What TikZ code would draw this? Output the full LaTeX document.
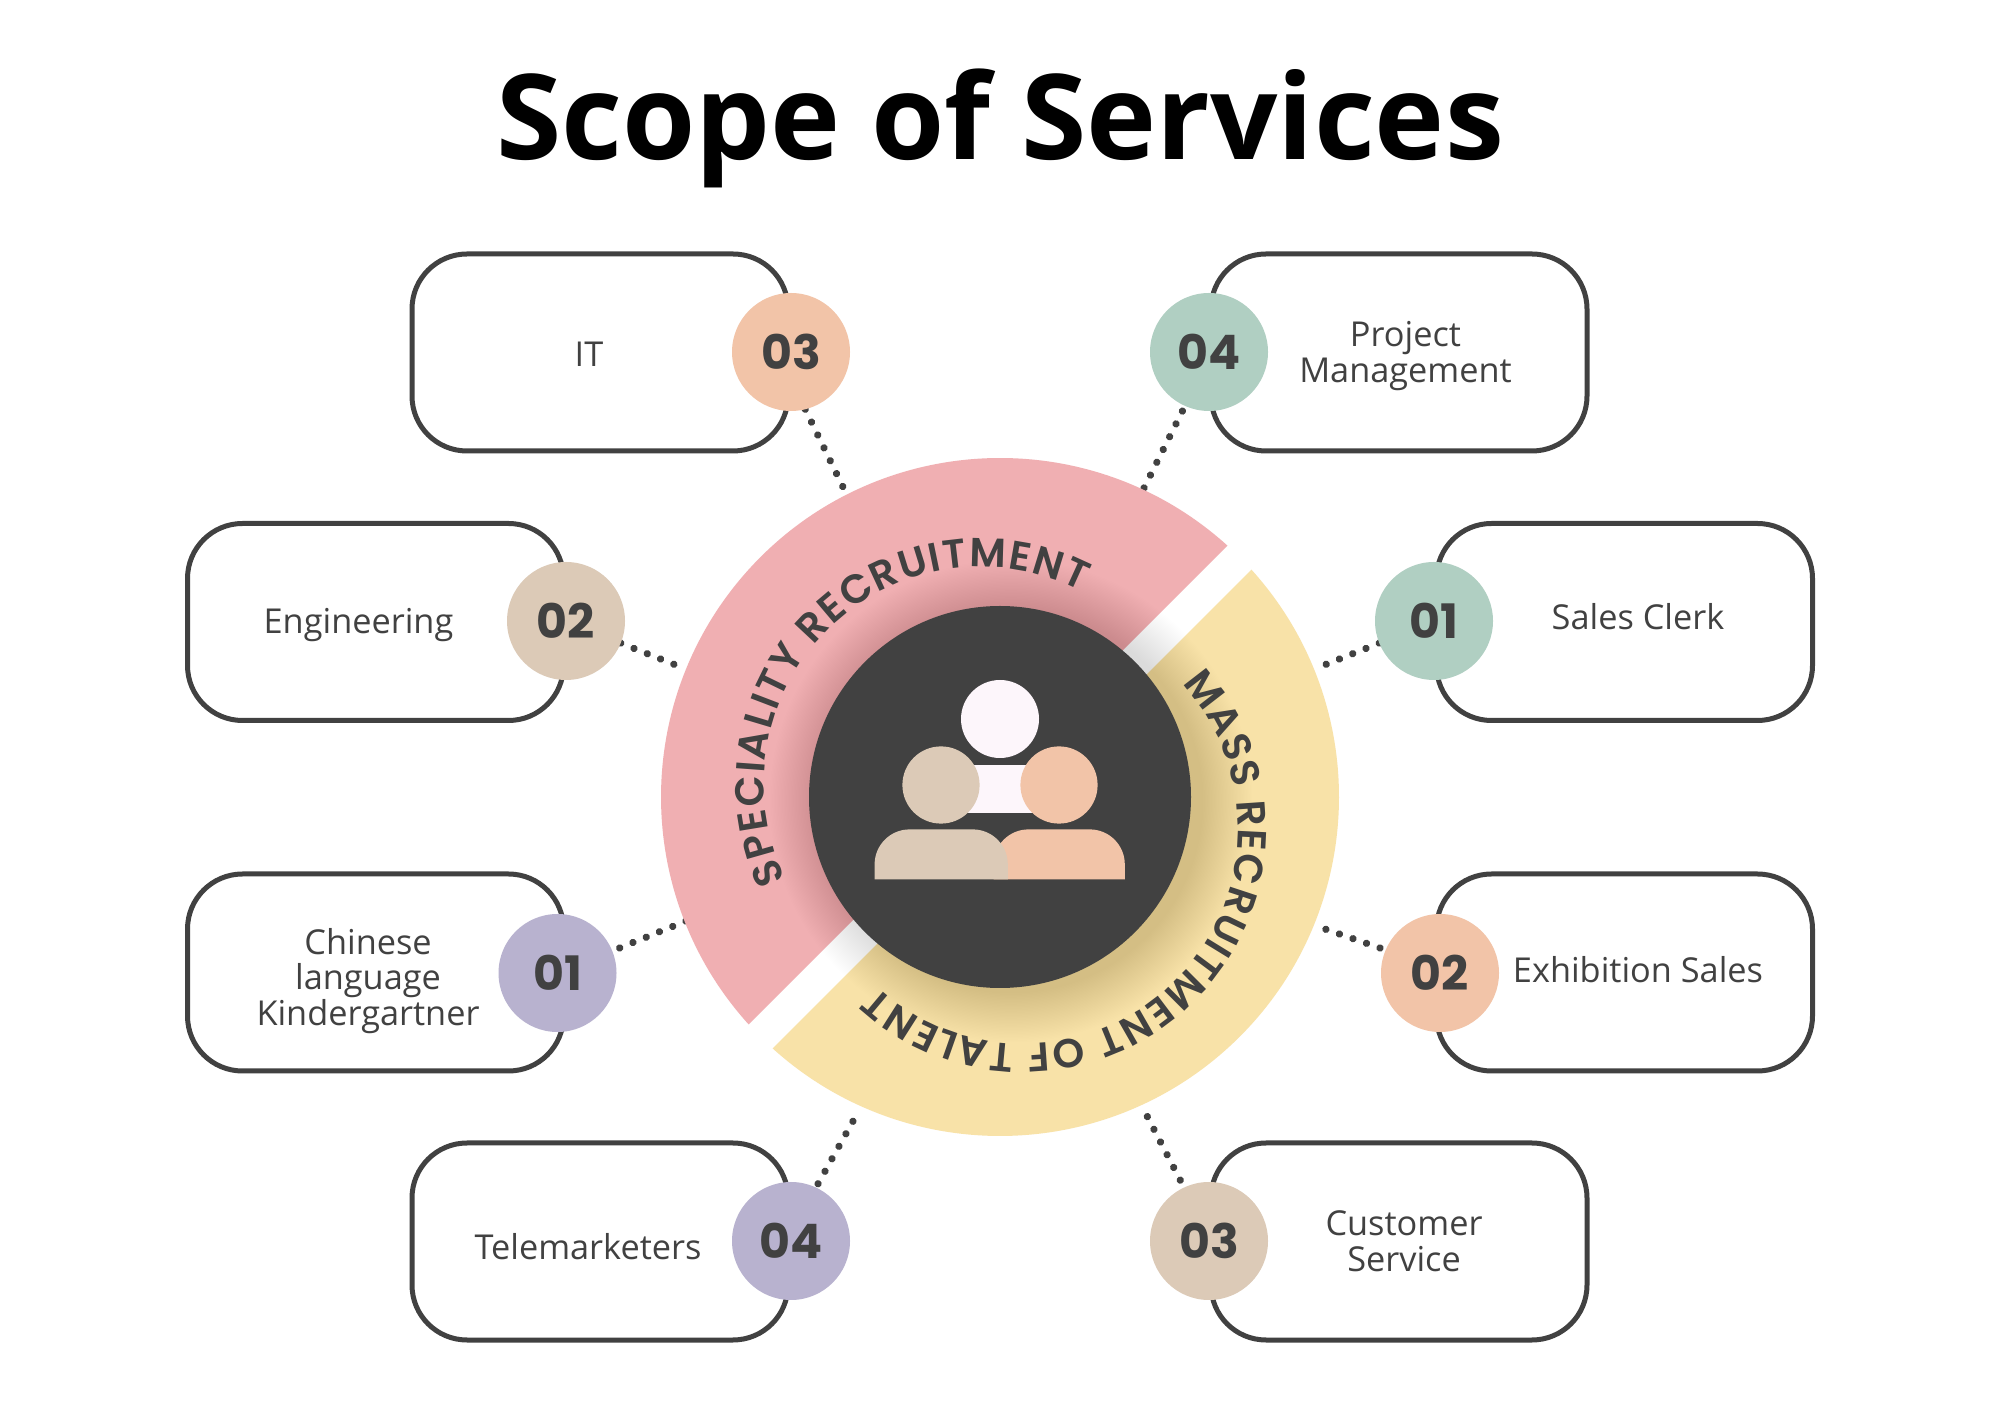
\documentclass[tikz,border=0pt]{standalone}
\usepackage{fontspec}
\setmainfont{Open Sans}
\newfontfamily\curvefont{Poppins}[UprightFont=* SemiBold]
\newfontfamily\digitfont{Poppins}[UprightFont=* Bold]
\usetikzlibrary{backgrounds,decorations.text}
\definecolor{ink}{HTML}{414141}
\definecolor{wedgepink}{HTML}{F0AFB2}
\definecolor{wedgeyellow}{HTML}{F8E2A8}
\definecolor{sage}{HTML}{B0CFC2}
\definecolor{peach}{HTML}{F2C4A8}
\definecolor{tan}{HTML}{DCCAB7}
\definecolor{lavender}{HTML}{B8B2CF}
\definecolor{blush}{HTML}{FDF6FB}
\tikzset{
  x=1pt,y=1pt,
  servicebox/.style={draw=ink,line width=5pt,fill=white,rounded corners=55pt,
    minimum width=376pt,minimum height=197pt,inner sep=0pt,outer sep=0pt},
  badge/.style={circle,minimum size=118pt,inner sep=0pt,outer sep=0pt,text=ink,
    font=\fontsize{47.5}{50}\digitfont},
  servicelabel/.style={text=ink,align=center,inner sep=0pt,
    font=\fontsize{34.3}{35.7}\selectfont},
  dotted link/.style={ink,line width=7.3pt,line cap=round,
    dash pattern=on 0.01pt off 14.3pt},
}
\begin{document}
\begin{tikzpicture}
\useasboundingbox (0,0) rectangle (2000,1414);

% heading
\node[text=black,inner sep=0pt,anchor=base,font=\fontsize{118.5}{130}\selectfont\bfseries] (heading) at (1000,1254) {Scope of Services};

% the two service sectors
\fill[wedgepink] ([shift={(1000,617)}]47.87:339) arc[start angle=47.87,end angle=222.13,radius=339] -- cycle;
\fill[wedgeyellow] ([shift={(1000,617)}]42.13:339) arc[start angle=42.13,end angle=-132.13,radius=339] -- cycle;

% soft shadow under the central disc
\foreach \i in {1,...,36} {
  \fill[black,opacity=0.005] (1011,613) circle[radius={191+\i*1.4}];
}

% curved sector titles
\path[decorate,decoration={text along path,text align={fit to path},
    text={|\fontsize{40.5}{40}\curvefont\color{ink}|SPECIALITY RECRUITMENT}}]
  [shift={(981,630)}] (206:217) arc[start angle=206,end angle=62.5,radius=217];
\path[decorate,decoration={text along path,text align={fit to path},
    text={|\fontsize{40.5}{40}\curvefont\color{ink}|MASS RECRUITMENT OF TALENT}}]
  [shift={(1023,585)}] (42.5:215) arc[start angle=42.5,end angle=-133,radius=215];

% central disc and people icon
\node[circle,fill=ink,minimum size=382pt,inner sep=0pt,outer sep=0pt] (hub) at (1000,617) {};
\fill[blush] (1000,695) circle[radius=39];
\fill[blush] (963,600.7) rectangle (1037,649.4);
\fill[peach] (993.5,534.6) -- (993.5,549.6) arc[start angle=180,end angle=90,radius=35]
  -- (1089.8,584.6) arc[start angle=90,end angle=0,radius=35] -- (1124.8,534.6) -- cycle;
\fill[tan] (874.6,534.6) -- (874.6,549.6) arc[start angle=180,end angle=90,radius=35]
  -- (972.8,584.6) arc[start angle=90,end angle=0,radius=35] -- (1007.8,534.6) -- cycle;
\fill[tan] (941,629) circle[radius=38.6];
\fill[peach] (1059,629) circle[radius=38.6];

% service boxes
\node[servicebox] (boxIT) at (600,1061.5) {};
\node[servicebox] (boxPM) at (1399,1061.5) {};
\node[servicebox] (boxEng) at (375.5,792) {};
\node[servicebox] (boxSales) at (1624.5,792) {};
\node[servicebox] (boxKids) at (375.5,441.5) {};
\node[servicebox] (boxExpo) at (1624.5,441.5) {};
\node[servicebox] (boxTele) at (600,172.5) {};
\node[servicebox] (boxCust) at (1399,172.5) {};

% labels
\node[servicelabel] (lIT) at (589,1060) {IT};
\node[servicelabel] (lPM) at (1405.5,1058) {Project\\Management};
\node[servicelabel] (lEng) at (358.5,789) {Engineering};
\node[servicelabel] (lSales) at (1638,797) {Sales Clerk};
\node[servicelabel] (lKids) at (368,433) {Chinese\\language\\Kindergartner};
\node[servicelabel] (lExpo) at (1638,444.5) {Exhibition Sales};
\node[servicelabel] (lTele) at (588,167) {Telemarketers};
\node[servicelabel] (lCust) at (1404,172.5) {Customer\\Service};

% numbered badges
\node[badge,fill=peach] (b3) at (791,1062) {03};
\node[badge,fill=sage] (b4) at (1209,1062) {04};
\node[badge,fill=tan] (b2) at (566,793) {02};
\node[badge,fill=sage] (b1) at (1434,793) {01};
\node[badge,fill=lavender] (c1) at (557.5,441) {01};
\node[badge,fill=peach] (c2) at (1440,441) {02};
\node[badge,fill=lavender] (c4) at (791,173) {04};
\node[badge,fill=tan] (c3) at (1209,173) {03};

% free ends of the links
\coordinate (e3) at (843,927);
\coordinate (e4) at (1142,922);
\coordinate (e2) at (678,748);
\coordinate (e1) at (1322,748);
\coordinate (f1) at (686,493);
\coordinate (f2) at (1322,486);
\coordinate (f4) at (857,300);
\coordinate (f3) at (1146,300);

% dotted links run behind badges and sectors
\begin{pgfonlayer}{background}
  \fill[white] (0,0) rectangle (2000,1414);
  \draw[dotted link] (b3.-76) -- (e3);
  \draw[dotted link,dash phase=8.5pt] (b4.-114.6) -- (e4);
  \draw[dotted link] (b2.-22) -- (e2);
  \draw[dotted link] (b1.202) -- (e1);
  \draw[dotted link,dash phase=6.3pt] (c1.22.5) -- (f1);
  \draw[dotted link,dash phase=8.3pt] (c2.157.4) -- (f2);
  \draw[dotted link,dash phase=10pt] (c4.65) -- (f4);
  \draw[dotted link,dash phase=6pt] (c3.115.4) -- (f3);
\end{pgfonlayer}
\end{tikzpicture}
\end{document}
